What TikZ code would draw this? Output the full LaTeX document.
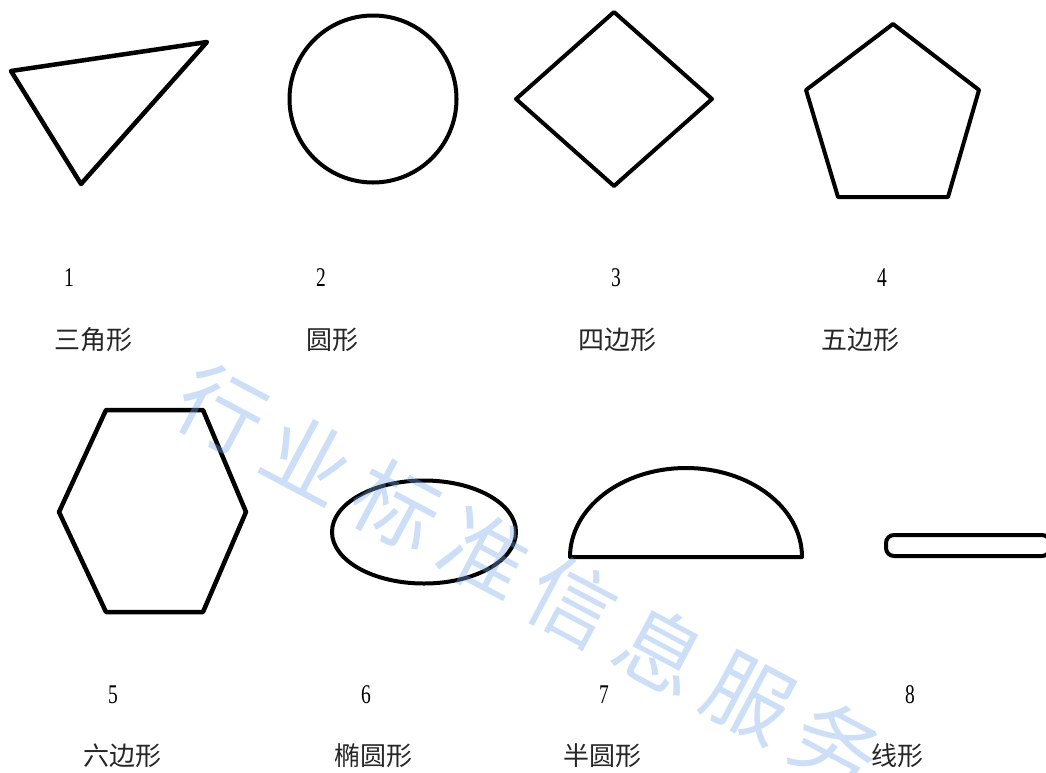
\documentclass[tikz,border=0pt]{standalone}
\usepackage{fontspec}
\usetikzlibrary{shapes.geometric}
\setmainfont{Liberation Serif}
\newfontfamily\cjk{Noto Sans CJK SC}[Scale=1]
\definecolor{wmblue}{RGB}{120,170,235}
\newcommand{\numtxt}[1]{\scalebox{0.72}[1]{#1}}
\begin{document}
\begin{tikzpicture}[x=1pt,y=-1pt,
  shapeline/.style={draw=black,line width=4.5pt,line join=round},
  numlabel/.style={font=\fontsize{27}{30}\selectfont,inner sep=0pt},
  cnlabel/.style={font=\cjk\fontsize{26}{30}\selectfont\color{black!85},inner sep=0pt},
  wmark/.style={font=\cjk\fontsize{86}{88}\selectfont,text=wmblue,opacity=0.38,inner sep=0pt,rotate=-28}]
\useasboundingbox (0,0) rectangle (1046,772);
% row 1
\coordinate (t1) at (11,71);
\coordinate (t2) at (207,42);
\coordinate (t3) at (81,184);
\draw[shapeline] (t1) -- (t2) -- (t3) -- cycle;
\node[shapeline,circle,minimum size=167pt,inner sep=0pt,line width=4pt] (circ) at (373,99) {};
\coordinate (d1) at (614,12);
\coordinate (d2) at (712,99);
\coordinate (d3) at (614,186);
\coordinate (d4) at (516,99);
\draw[shapeline,line width=4pt] (d1) -- (d2) -- (d3) -- (d4) -- cycle;
\coordinate (p1) at (893,24);
\coordinate (p2) at (979,90);
\coordinate (p3) at (948,197);
\coordinate (p4) at (838,197);
\coordinate (p5) at (806,90);
\draw[shapeline,line width=4pt] (p1) -- (p2) -- (p3) -- (p4) -- (p5) -- cycle;
\node[numlabel] (n1) at (69,278) {\numtxt{1}};
\node[numlabel] (n2) at (321,278) {\numtxt{2}};
\node[numlabel] (n3) at (616,278) {\numtxt{3}};
\node[numlabel] (n4) at (882,278) {\numtxt{4}};
\node[cnlabel] (c1) at (93,340) {三角形};
\node[cnlabel] (c2) at (332,340) {圆形};
\node[cnlabel] (c3) at (617,340) {四边形};
\node[cnlabel] (c4) at (860,340) {五边形};
% row 2
\coordinate (h1) at (106,410);
\coordinate (h2) at (203,410);
\coordinate (h3) at (246,512);
\coordinate (h4) at (203,612);
\coordinate (h5) at (106,612);
\coordinate (h6) at (59,512);
\draw[shapeline] (h1) -- (h2) -- (h3) -- (h4) -- (h5) -- (h6) -- cycle;
\node[shapeline,ellipse,minimum width=184pt,minimum height=103pt,inner sep=0pt,line width=4pt] (ell) at (424,532) {};
\coordinate (s1) at (570,557);
\coordinate (s2) at (802,557);
\draw[shapeline,line width=4pt] (s1) arc[start angle=180,end angle=0,x radius=116,y radius=-89] -- cycle;
\draw[shapeline,line width=4pt,rounded corners=8pt] (886,535) rectangle (1050,556);
\node[numlabel] (n5) at (113,695) {\numtxt{5}};
\node[numlabel] (n6) at (366,695) {\numtxt{6}};
\node[numlabel] (n7) at (604,695) {\numtxt{7}};
\node[numlabel] (n8) at (910,695) {\numtxt{8}};
\node[cnlabel] (c5) at (122,756) {六边形};
\node[cnlabel] (c6) at (373,756) {椭圆形};
\node[cnlabel] (c7) at (602,756) {半圆形};
\node[cnlabel] (c8) at (897,756) {线形};
% watermark
\node[wmark] (w1) at (222,410) {行};
\node[wmark] (w2) at (309,458) {业};
\node[wmark] (w3) at (397,506) {标};
\node[wmark] (w4) at (485,554) {准};
\node[wmark] (w5) at (573,602) {信};
\node[wmark] (w6) at (661,650) {息};
\node[wmark] (w7) at (749,698) {服};
\node[wmark] (w8) at (837,746) {务};
\end{tikzpicture}
\end{document}
